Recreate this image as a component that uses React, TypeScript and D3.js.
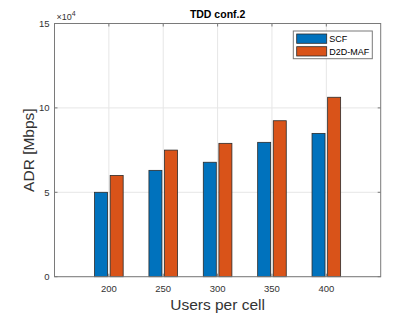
import React from 'react';
import * as d3 from 'd3';

// users per cell
const users = [200, 250, 300, 350, 400];
// ADR values in units of 10^4 Mbps
const scfValues = [5.0, 6.3, 6.78, 7.96, 8.49];
const d2dValues = [6.0, 7.5, 7.9, 9.24, 10.63];
const seriesNames = ['SCF', 'D2D-MAF'];
const yTicks = [0, 5, 10, 15];

const App = () => {
    const width = 420;
    const height = 315;
    const margin = { top: 23.5, right: 39.3, bottom: 38.3, left: 54.5 };
    const plotW = width - margin.left - margin.right;
    const plotH = height - margin.top - margin.bottom;

    const xScale = d3.scaleLinear().domain([150, 450]).range([0, plotW]);
    const yScale = d3.scaleLinear().domain([0, 15]).range([plotH, 0]);

    const barW = 13;
    const offset = 7.8;
    const colors = ['#0072BD', '#D95319'];
    const series = [scfValues, d2dValues];
    const axisColor = '#7a7a7a';
    const font = '"Liberation Sans", Arial, sans-serif';

    return (
        <svg width={width} height={height} style={{ position: 'absolute', left: 0, top: 0 }} fontFamily={font}>
            <rect width={width} height={height} fill="#fff" />
            <g transform={`translate(${margin.left}, ${margin.top})`}>
                {/* grid */}
                {users.map(u => (
                    <line key={'gx' + u} x1={xScale(u)} x2={xScale(u)} y1={0} y2={plotH} stroke="#e6e6e6" />
                ))}
                {yTicks.map(t => (
                    <line key={'gy' + t} x1={0} x2={plotW} y1={yScale(t)} y2={yScale(t)} stroke="#e6e6e6" />
                ))}
                {/* bars */}
                {series.map((vals, si) => (
                    <g key={si}>
                        {vals.map((v, i) => {
                            const cx = xScale(users[i]) + (si === 0 ? -offset : offset);
                            return (
                                <rect
                                    key={i}
                                    x={cx - barW / 2}
                                    y={yScale(v)}
                                    width={barW}
                                    height={yScale(0) - yScale(v)}
                                    fill={colors[si]}
                                    stroke="#2b2b2b"
                                    strokeWidth={0.8}
                                />
                            );
                        })}
                    </g>
                ))}
                {/* box */}
                <rect x={0} y={0} width={plotW} height={plotH} fill="none" stroke={axisColor} strokeWidth={1} />
                {/* ticks */}
                {users.map(u => (
                    <g key={'tx' + u}>
                        <line x1={xScale(u)} x2={xScale(u)} y1={plotH} y2={plotH - 3} stroke={axisColor} />
                        <line x1={xScale(u)} x2={xScale(u)} y1={0} y2={3} stroke={axisColor} />
                        <text x={xScale(u)} y={plotH + 15} textAnchor="middle" fontSize="9.5px" fill="#333">{u}</text>
                    </g>
                ))}
                {yTicks.map(t => (
                    <g key={'ty' + t}>
                        <line x1={0} x2={3} y1={yScale(t)} y2={yScale(t)} stroke={axisColor} />
                        <line x1={plotW} x2={plotW - 3} y1={yScale(t)} y2={yScale(t)} stroke={axisColor} />
                        <text x={-5} y={yScale(t)} dy="0.35em" textAnchor="end" fontSize="9.5px" fill="#333">{t}</text>
                    </g>
                ))}
                <text x={2} y={-4} fontSize="9px" fill="#333">
                    ×10<tspan dy={-4} fontSize="7px">4</tspan>
                </text>
                {/* title */}
                <text x={plotW / 2} y={-6} textAnchor="middle" fontSize="10.5px" fontWeight="bold" fill="#000">TDD conf.2</text>
                {/* axis labels */}
                <text x={plotW / 2} y={plotH + 33.5} textAnchor="middle" fontSize="15.5px" fill="#333">Users per cell</text>
                <text transform={`translate(${-20.5}, ${plotH / 2}) rotate(-90)`} textAnchor="middle" fontSize="15.5px" fill="#333">ADR [Mbps]</text>
                {/* legend */}
                <g transform={`translate(${293.3 - margin.left}, ${31 - margin.top})`}>
                    <rect x={0} y={0} width={79} height={27.7} fill="#fff" stroke={axisColor} />
                    {seriesNames.map((name, i) => (
                        <g key={name} transform={`translate(3.4, ${3 + i * 12.7})`}>
                            <rect x={0} y={0} width={30} height={9.3} fill={colors[i]} stroke="#2b2b2b" strokeWidth={0.8} />
                            <text x={32.5} y={4.8} dy="0.35em" fontSize="9px" fill="#000">{name}</text>
                        </g>
                    ))}
                </g>
            </g>
        </svg>
    );
};

export default App;
